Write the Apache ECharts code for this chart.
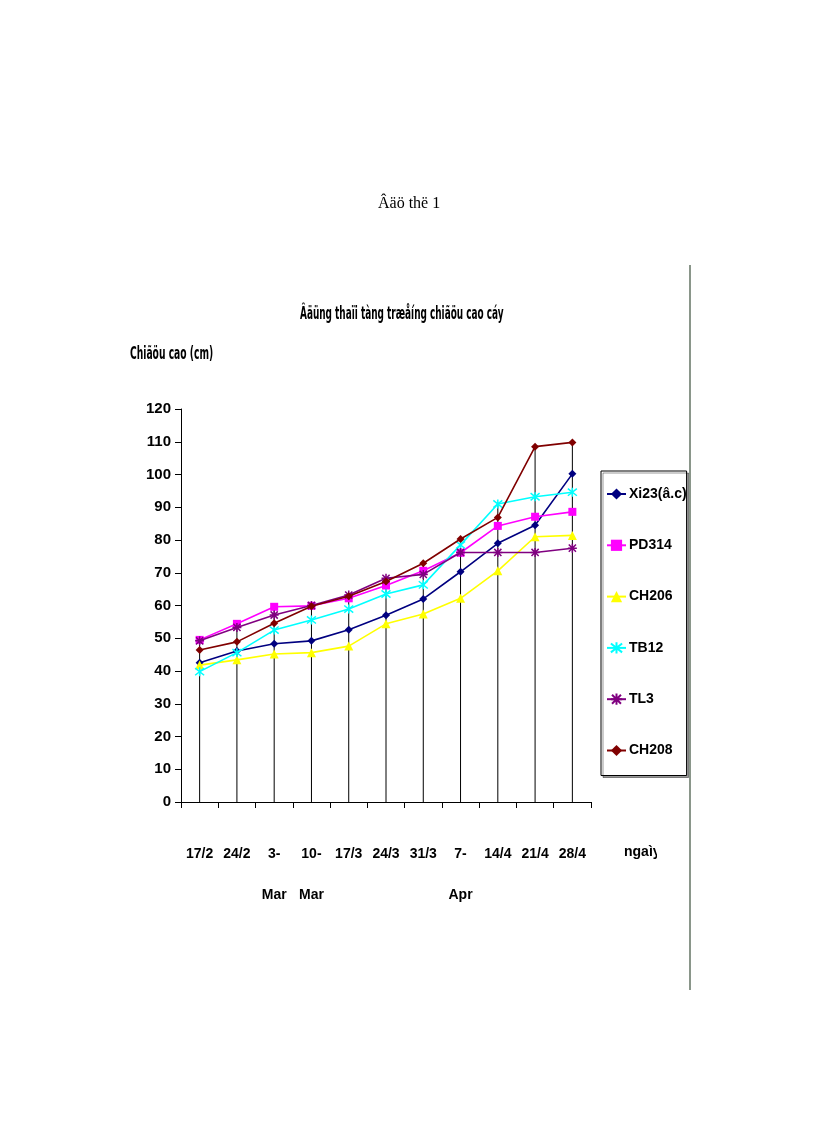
<!DOCTYPE html>
<html>
<head>
<meta charset="utf-8">
<script src="https://cdn.jsdelivr.net/npm/echarts@6/dist/echarts.min.js"></script>
<style>
html,body{margin:0;padding:0;background:#fff;}
#chart{width:816px;height:1123px;}
</style>
</head>
<body>
<div id="chart"></div>
<script>
const categories = ['17/2','24/2','3-\nMar','10-\nMar','17/3','24/3','31/3','7-\nApr','14/4','21/4','28/4'];
const seriesNames = ['Xi23(â.c)','PD314','CH206','TB12','TL3','CH208'];
const xi23  = [42.5, 46.1, 48.3, 49.2, 52.6, 57.0, 62.0, 70.3, 79.0, 84.5, 100.2];
const pd314 = [49.5, 54.4, 59.6, 59.9, 62.2, 66.1, 70.6, 76.1, 84.3, 87.1, 88.6];
const ch206 = [41.8, 43.4, 45.2, 45.6, 47.6, 54.4, 57.4, 62.2, 70.6, 81.0, 81.4];
const tb12  = [39.8, 45.6, 52.5, 55.6, 58.9, 63.5, 66.3, 78.5, 91.0, 93.2, 94.6];
const tl3   = [49.2, 53.3, 57.1, 60.0, 63.2, 68.3, 69.5, 76.2, 76.2, 76.2, 77.5];
const ch208 = [46.4, 48.9, 54.6, 59.8, 62.8, 67.3, 72.9, 80.3, 86.9, 108.5, 109.8];
const yTicks = {min: 0, max: 120, interval: 10};

const colors = ['#000080','#FF00FF','#FFFF00','#00FFFF','#800080','#800000'];
const allData = [xi23, pd314, ch206, tb12, tl3, ch208];
const symbols = [
  'diamond',
  'rect',
  'triangle',
  'path://M-4,-4L4,4M-4,4L4,-4M0,-5L0,5',
  'path://M-4,-4L4,4M-4,4L4,-4M0,-5L0,5M-5,0L5,0',
  'diamond'
];
const symbolSizes = [8, 8, 9, 9, 9, 8];
const FONT = '"Liberation Sans", Arial, sans-serif';
const GFONT = '"DejaVu Sans Condensed", "DejaVu Sans", sans-serif';

const dropData = categories.map((c, i) => [i, Math.max(...allData.map(d => d[i]))]);

const series = allData.map((d, k) => ({
  name: seriesNames[k],
  type: 'line',
  data: d,
  symbol: symbols[k],
  symbolSize: symbolSizes[k],
  showAllSymbol: true,
  z: 3 + k,
  lineStyle: {color: colors[k], width: 1.6},
  itemStyle: {color: colors[k], borderColor: colors[k], borderWidth: symbols[k].startsWith('path') ? 1.5 : 0},
  emphasis: {disabled: true}
}));

series.unshift({
  type: 'custom',
  name: 'drop',
  data: dropData,
  z: 1,
  silent: true,
  renderItem: function (params, api) {
    const top = api.coord([api.value(0), api.value(1)]);
    const bot = api.coord([api.value(0), 0]);
    return {
      type: 'line',
      shape: {x1: top[0], y1: top[1], x2: bot[0], y2: bot[1]},
      style: {stroke: '#000', lineWidth: 1}
    };
  }
});

const chart = echarts.init(document.getElementById('chart'), null, {renderer: 'canvas'});
chart.setOption({
  backgroundColor: '#fff',
  animation: false,
  grid: {left: 181, top: 409, width: 410, height: 393, containLabel: false},
  legend: {
    data: seriesNames,
    orient: 'vertical',
    left: 601, top: 471,
    padding: [16, 0, 18, 5],
    itemGap: 37.3,
    itemWidth: 19, itemHeight: 14,
    borderColor: '#000', borderWidth: 1,
    shadowColor: 'rgba(0,0,0,0.4)', shadowOffsetX: 2, shadowOffsetY: 2,
    backgroundColor: '#fff',
    textStyle: {fontFamily: FONT, fontWeight: 'bold', fontSize: 14, color: '#000', padding: [0,0,0,-2]},
    selectedMode: false
  },
  xAxis: {
    type: 'category',
    data: categories,
    boundaryGap: true,
    axisLine: {show: true, lineStyle: {color: '#000', width: 1}},
    axisTick: {show: true, alignWithLabel: false, length: 6, lineStyle: {color: '#000'}},
    axisLabel: {
      interval: 0, margin: 32, lineHeight: 41,
      fontFamily: FONT, fontWeight: 'bold', fontSize: 14, color: '#000'
    },
    splitLine: {show: false}
  },
  yAxis: {
    type: 'value',
    min: yTicks.min, max: yTicks.max, interval: yTicks.interval,
    axisLine: {show: true, lineStyle: {color: '#000', width: 1}},
    axisTick: {show: true, length: 6, lineStyle: {color: '#000'}},
    axisLabel: {margin: 10, fontFamily: FONT, fontWeight: 'bold', fontSize: 15, color: '#000'},
    splitLine: {show: false}
  },
  graphic: [
    {type: 'text', x: 300, y: 306, scaleX: 0.583,
     style: {text: 'Âäüng thaïi tàng træåíng chiãöu cao cáy', font: 'bold 17px ' + GFONT, fill: '#000'}},
    {type: 'text', x: 130, y: 346, scaleX: 0.6,
     style: {text: 'Chiãöu cao (cm)', font: 'bold 17px ' + GFONT, fill: '#000'}},
    {type: 'text', left: 624, top: 845,
     style: {text: 'ngaìy', font: 'bold 14px ' + FONT, fill: '#000'}},
    {type: 'text', left: 378, top: 196,
     style: {text: 'Âäö thë 1', font: '16px "Liberation Serif", serif', fill: '#000'}},
    {type: 'rect', shape: {x: 657, y: 836, width: 30, height: 30}, style: {fill: '#fff'}, z: 200},
    {type: 'line', shape: {x1: 690, y1: 265, x2: 690, y2: 990}, style: {stroke: '#8a968a', lineWidth: 2}, z: 210}
  ],
  series: series
});
</script>
</body>
</html>
